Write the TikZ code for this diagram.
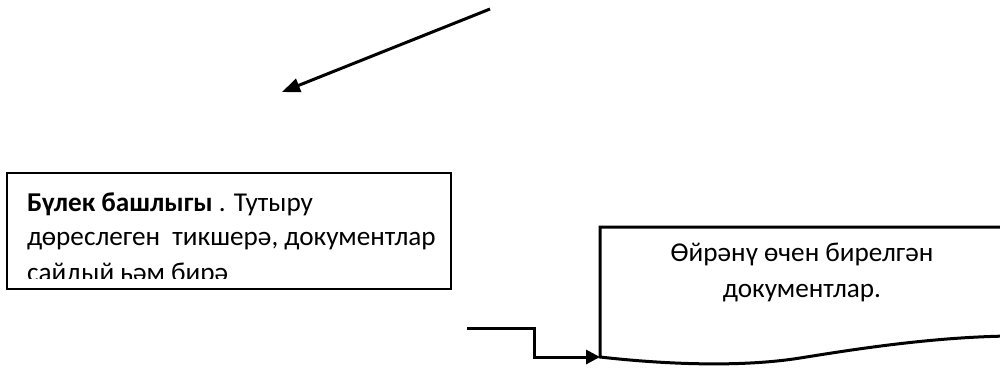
\documentclass[tikz,border=0pt]{standalone}
\usepackage{fontspec}
\setmainfont{Carlito}
\usetikzlibrary{arrows.meta}
\begin{document}
\begin{tikzpicture}[x=0.5pt,y=-0.5pt,
  boxst/.style={draw,line width=1pt,inner sep=0pt,outer sep=0pt},
  docst/.style={draw,line width=1.5pt,line join=miter},
  conn/.style={draw,line width=1.5pt,-{Triangle[length=7pt,width=7pt]}},
  arr/.style={draw,line width=1.5pt,-{Triangle[length=9pt,width=7pt]}},
  txt/.style={inner sep=0pt,outer sep=0pt,font=\fontsize{13.6}{16}\selectfont}]
\useasboundingbox (0,0) rectangle (1000,372);
% top arrow
\coordinate (astart) at (490,9);
\coordinate (aend) at (282,92);
\draw[arr] (astart) -- (aend);
% left box
\node[boxst,minimum width=222pt,minimum height=58pt] (boss) at (229,231) {};
\begin{scope}
\clip (8,174) rectangle (450,278);
\node[txt,anchor=base west] (l1) at (27,211) {\textbf{Бүлек башлыгы} . Тутыру};
\node[txt,anchor=base west] (l2) at (27,245) {дөреслеген~ тикшерә, документлар};
\node[txt,anchor=base west] (l3) at (27,281) {сайдый һәм бирә};
\end{scope}
% document shape
\coordinate (docin) at (600,357);
\draw[docst] (1010,227) -- (600,227) -- (docin)
  .. controls (680,366) and (750,366) .. (800,358)
  .. controls (850,350) and (930,337) .. (1010,336);
\node[txt,anchor=base] (d1) at (802,261) {Өйрәнү өчен бирелгән};
\node[txt,anchor=base] (d2) at (802,297) {документлар.};
% connector
\coordinate (cstart) at (467,328);
\draw[conn] (cstart) -- (534,328) |- (docin);
\end{tikzpicture}
\end{document}
